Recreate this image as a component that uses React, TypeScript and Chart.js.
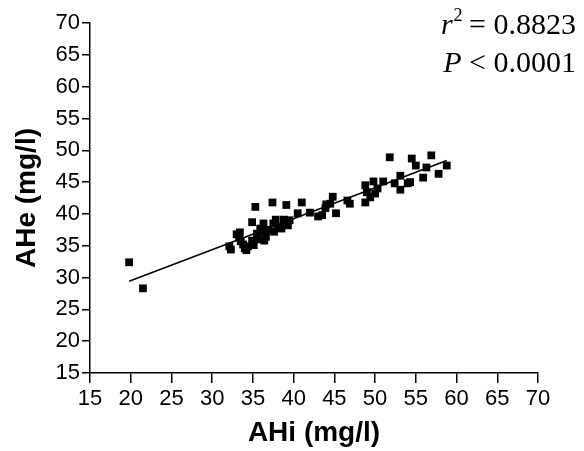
import { useEffect, useRef } from "react";
import { Chart, registerables } from "chart.js";

Chart.register(...registerables);

// AHi (mg/l) values
const ahi = [
  19.8, 21.5, 32.1, 32.3, 33.0, 33.3, 33.4, 33.5, 33.8, 34.0, 34.2, 34.4, 34.9, 35.3, 34.9,
  35.1, 35.5, 35.6, 35.9, 36.1, 36.3, 36.4, 36.6, 36.8, 37.4, 37.5, 37.6, 37.8, 38.1, 38.5,
  38.8, 38.9, 39.1, 39.3, 39.5, 40.5, 41.0, 42.0, 43.0, 43.5, 43.9, 44.0, 44.5, 44.8, 45.2,
  46.6, 46.9, 48.8, 48.8, 49.0, 49.4, 49.8, 50.0, 50.3, 51.0, 51.8, 52.4, 53.1, 53.1, 54.0,
  54.3, 54.5, 55.0, 55.9, 56.3, 56.9, 57.8, 58.8,
];
// AHe (mg/l) values
const ahe = [
  32.4, 28.3, 34.9, 34.4, 36.8, 36.3, 37.1, 35.7, 35.2, 34.6, 34.3, 34.9, 38.7, 41.1, 35.8,
  35.1, 36.9, 36.0, 37.7, 37.1, 38.5, 35.8, 36.4, 37.5, 41.8, 38.5, 37.2, 39.1, 38.0, 37.7,
  39.1, 38.4, 41.4, 38.2, 39.0, 40.1, 41.8, 40.2, 39.6, 39.8, 40.9, 41.5, 41.6, 42.7, 40.1,
  42.1, 41.6, 41.8, 44.5, 43.4, 42.6, 45.1, 43.2, 44.0, 45.1, 48.9, 44.8, 46.0, 43.8, 44.8,
  45.0, 48.7, 47.6, 45.7, 47.3, 49.2, 46.3, 47.6,
];
// regression line end points
const fitX = [19.8, 58.8];
const fitY = [29.4, 48.4];

const axisMin = 15;
const axisMax = 70;
const axisStep = 5;
const xTitle = "AHi (mg/l)";
const yTitle = "AHe (mg/l)";
const statR2 = "0.8823";
const statP = "0.0001";

const annotationPlugin = {
  id: "statsText",
  afterDraw(chart: any) {
    const ctx = chart.ctx as CanvasRenderingContext2D;
    const rightX = chart.width - 8;
    ctx.save();
    ctx.fillStyle = "#000";
    ctx.textBaseline = "alphabetic";
    const fItal = "italic 30px 'Liberation Serif', 'DejaVu Serif', serif";
    const fNorm = "30px 'Liberation Serif', 'DejaVu Serif', serif";
    const fSup = "18px 'Liberation Serif', 'DejaVu Serif', serif";
    // line 1: r^2 = 0.8823
    const rest1 = " = " + statR2;
    ctx.font = fItal;
    const wr = ctx.measureText("r").width;
    ctx.font = fSup;
    const w2 = ctx.measureText("2").width;
    ctx.font = fNorm;
    const wRest = ctx.measureText(rest1).width;
    let x = rightX - (wr + w2 + wRest);
    const y1 = 34;
    ctx.font = fItal;
    ctx.fillText("r", x, y1);
    x += wr + 1;
    ctx.font = fSup;
    ctx.fillText("2", x, y1 - 13);
    x += w2 - 1;
    ctx.font = fNorm;
    ctx.fillText(rest1, x, y1);
    // line 2: P < 0.0001
    const rest2 = " < " + statP;
    ctx.font = fItal;
    const wp = ctx.measureText("P").width;
    ctx.font = fNorm;
    const wr2 = ctx.measureText(rest2).width;
    let x2 = rightX - (wp + wr2);
    const y2 = 72;
    ctx.font = fItal;
    ctx.fillText("P", x2, y2);
    x2 += wp;
    ctx.font = fNorm;
    ctx.fillText(rest2, x2, y2);
    ctx.restore();
  },
};

export default function App() {
  const ref = useRef<HTMLCanvasElement | null>(null);

  useEffect(() => {
    if (!ref.current) return;
    const points = ahi.map((v, i) => ({ x: v, y: ahe[i] }));
    const fit = fitX.map((v, i) => ({ x: v, y: fitY[i] }));
    const tickFont = { family: "'Liberation Sans', Arial, sans-serif", size: 22 };
    const titleFont = { family: "'Liberation Sans', Arial, sans-serif", size: 28, weight: "bold" as const };

    const chart = new Chart(ref.current, {
      type: "scatter",
      data: {
        datasets: [
          {
            type: "line",
            data: fit,
            borderColor: "#000",
            borderWidth: 1.6,
            pointRadius: 0,
            fill: false,
            tension: 0,
          },
          {
            type: "scatter",
            data: points,
            pointStyle: "rect",
            pointRadius: 5.5,
            pointBorderWidth: 0,
            backgroundColor: "#000",
            borderColor: "#000",
          },
        ],
      },
      options: {
        animation: false,
        responsive: false,
        layout: { padding: { top: 23, right: 46, left: 0, bottom: 0 } },
        plugins: { legend: { display: false }, tooltip: { enabled: false } },
        scales: {
          x: {
            type: "linear",
            min: axisMin,
            max: axisMax,
            afterFit(scale: any) {
              scale.height = 78;
            },
            ticks: { stepSize: axisStep, color: "#000", font: tickFont, padding: 3, maxRotation: 0 },
            grid: { drawOnChartArea: false, drawTicks: true, tickLength: 10, color: "#000", lineWidth: 1.5 },
            border: { display: true, color: "#000", width: 1.5 },
            title: { display: true, text: xTitle, color: "#000", font: titleFont, padding: { top: 0, bottom: 1 } },
          },
          y: {
            type: "linear",
            min: axisMin,
            max: axisMax,
            afterFit(scale: any) {
              scale.width = 90;
            },
            ticks: { stepSize: axisStep, color: "#000", font: tickFont, padding: 2 },
            grid: { drawOnChartArea: false, drawTicks: true, tickLength: 8, color: "#000", lineWidth: 1.5 },
            border: { display: true, color: "#000", width: 1.5 },
            title: { display: true, text: yTitle, color: "#000", font: titleFont, padding: { top: 10, bottom: 0 } },
          },
        },
      },
      plugins: [annotationPlugin],
    } as any);
    return () => chart.destroy();
  }, []);

  return (
    <div style={{ position: "fixed", left: 0, top: 0, width: 584, height: 451, background: "#fff" }}>
      <canvas ref={ref} width={584} height={451} style={{ display: "block" }} />
    </div>
  );
}
